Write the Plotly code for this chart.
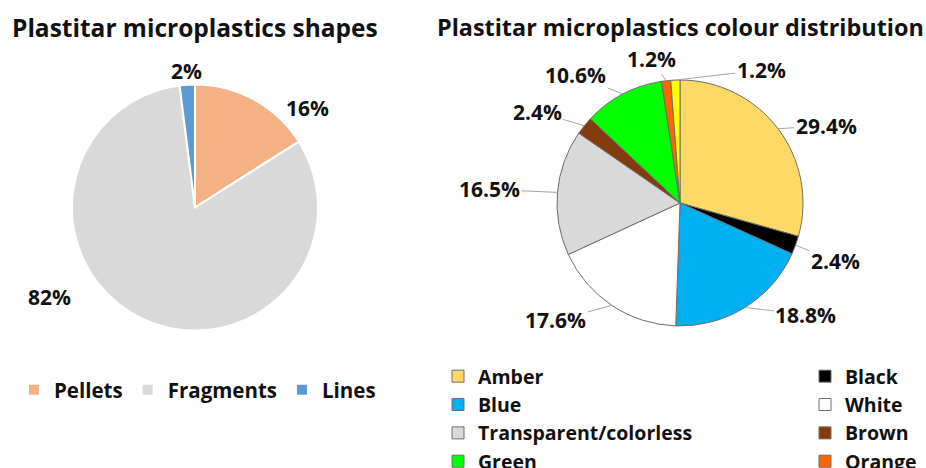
import math
import plotly.graph_objects as go

W, H = 926, 468

# ---------------- data ----------------
shape_labels = ["Pellets", "Fragments", "Lines"]
shape_values = [16, 82, 2]
shape_text = ["16%", "82%", "2%"]
shape_colors = ["#F4B183", "#D9D9D9", "#5B9BD5"]

colour_labels = ["Amber", "Black", "Blue", "White", "Transparent/colorless",
                 "Brown", "Green", "Orange", "Yellow"]
colour_values = [29.4, 2.4, 18.8, 17.6, 16.5, 2.4, 10.6, 1.2, 1.2]
colour_text = ["29.4%", "2.4%", "18.8%", "17.6%", "16.5%", "2.4%", "10.6%", "1.2%", "1.2%"]
colour_colors = ["#FFD966", "#000000", "#00B0F0", "#FFFFFF", "#D9D9D9",
                 "#843C0C", "#00FF00", "#FF6600", "#FFFF00"]

titles = ["Plastitar microplastics shapes", "Plastitar microplastics colour distribution"]

# ---------------- layout / style ----------------
FONT = "Open Sans"
# pie geometry (pixel centre + radius) -> domains
pie1 = dict(cx=195, cy=207.5, r=123)
pie2 = dict(cx=680, cy=203, r=123)
title_sizes = [24.5, 23.4]

# label offsets from slice edge midpoint (px)
shape_label_offsets = [(53, 8), (-93, -22), (-1, -14)]
colour_label_offsets = [(48, -3), (40, 16), (61, 7), (-56, 15), (-68, -3),
                        (-47, -14), (-47, -19), (-15, -22), (86, -10)]


def domain(p):
    return dict(x=[(p["cx"] - p["r"]) / W, (p["cx"] + p["r"]) / W],
                y=[1 - (p["cy"] + p["r"]) / H, 1 - (p["cy"] - p["r"]) / H])


def edge_points(values, p):
    tot = sum(values)
    cum = 0
    pts = []
    for v in values:
        mid = (cum + v / 2) / tot * 2 * math.pi
        cum += v
        px = p["cx"] + p["r"] * math.sin(mid)
        py = p["cy"] - p["r"] * math.cos(mid)
        pts.append((px / W, 1 - py / H))
    return pts


fig = go.Figure()
fig.add_trace(go.Pie(
    labels=shape_labels, values=shape_values, sort=False, direction="clockwise",
    rotation=0, textinfo="none", hoverinfo="label+percent",
    marker=dict(colors=shape_colors, line=dict(color="#FFFFFF", width=2)),
    domain=domain(pie1), legend="legend",
))
fig.add_trace(go.Pie(
    labels=colour_labels, values=colour_values, sort=False, direction="clockwise",
    rotation=0, textinfo="none", hoverinfo="label+percent",
    marker=dict(colors=colour_colors, line=dict(color="#6E6E6E", width=1)),
    domain=domain(pie2), legend="legend2",
))

LABEL_SIZE = 21
annotations = []
for (x, y), t, (dx, dy) in zip(edge_points(shape_values, pie1), shape_text, shape_label_offsets):
    annotations.append(dict(x=x, y=y, xref="paper", yref="paper", text=f"<b>{t}</b>",
                            showarrow=False, xshift=dx, yshift=-dy,
                            xanchor="center", yanchor="middle",
                            font=dict(family=FONT, size=LABEL_SIZE, color="#111111")))
for (x, y), t, (dx, dy) in zip(edge_points(colour_values, pie2), colour_text, colour_label_offsets):
    annotations.append(dict(x=x, y=y, xref="paper", yref="paper", text=f"<b>{t}</b>",
                            showarrow=True, arrowhead=0, arrowwidth=1, arrowcolor="#A6A6A6",
                            ax=dx, ay=dy, standoff=0,
                            font=dict(family=FONT, size=LABEL_SIZE, color="#111111")))
for cx, t, s in zip([pie1["cx"], pie2["cx"]], titles, title_sizes):
    annotations.append(dict(x=cx / W, y=1 - 27 / H, xref="paper", yref="paper",
                            text=f"<b>{t}</b>", showarrow=False,
                            xanchor="center", yanchor="middle",
                            font=dict(family=FONT, size=s, color="#111111")))

fig.update_layout(
    width=W, height=H,
    margin=dict(l=0, r=0, t=0, b=0, autoexpand=False),
    paper_bgcolor="white", plot_bgcolor="white",
    font=dict(family=FONT, color="#111111"),
    annotations=annotations,
    legend=dict(orientation="h", x=14 / W, y=1 - 370 / H, xanchor="left", yanchor="top",
                font=dict(family=FONT, size=20.5, weight="bold", color="#111111"),
                itemwidth=30, bgcolor="rgba(0,0,0,0)"),
    legend2=dict(orientation="h", x=438 / W, y=1 - 357 / H, xanchor="left", yanchor="top",
                 font=dict(family=FONT, size=19.5, weight="bold", color="#111111"),
                 entrywidth=322, entrywidthmode="pixels", itemwidth=30,
                 bgcolor="rgba(0,0,0,0)"),
)

fig.write_html("out.html")
